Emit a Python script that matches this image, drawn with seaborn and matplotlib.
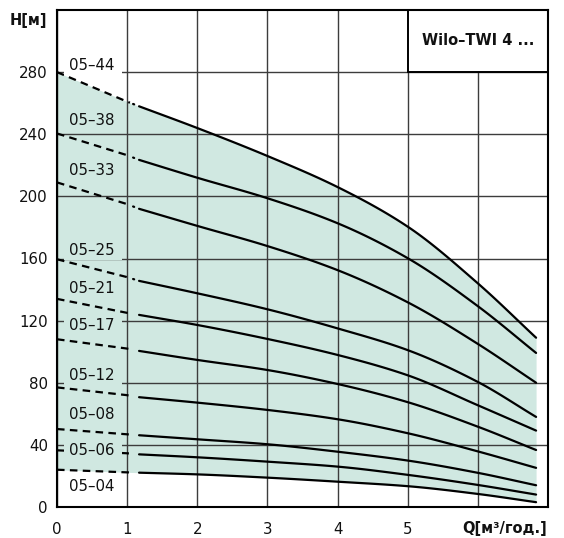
import numpy as np
import pandas as pd
import matplotlib
matplotlib.use("Agg")
import matplotlib.pyplot as plt
import seaborn as sns
from matplotlib.patches import Rectangle

# ---------------- data ----------------
q = [0, 1, 1.17, 2, 3, 4, 5, 6, 6.83]
h_05_44 = [280, 261, 258, 244, 226, 206, 180.5, 144, 109]
h_05_38 = [240.5, 226.5, 223.5, 212, 198.8, 182.7, 160.2, 129.3, 99.2]
h_05_33 = [209, 195, 192, 181, 168, 152.5, 131.8, 105, 80]
h_05_25 = [159.5, 148, 145.6, 137.6, 127.3, 115, 101, 80.5, 58]
h_05_21 = [134, 125, 123.7, 117.2, 108.2, 97.9, 84.8, 65.5, 49.2]
h_05_17 = [108, 102, 100.5, 94.7, 88.2, 79.2, 67.5, 51.7, 36.7]
h_05_12 = [77, 72, 70.7, 67.2, 62.5, 56.5, 47.5, 35.8, 25.2]
h_05_08 = [50.2, 46.8, 46.2, 43.6, 40.4, 35.6, 29.9, 22, 14]
h_05_06 = [36.5, 34.6, 33.9, 32, 29.2, 26, 20.7, 14.2, 8]
h_05_04 = [24, 22.3, 22.1, 21, 18.9, 16.3, 13.4, 8.4, 3.1]

models = ["05–44", "05–38", "05–33", "05–25", "05–21",
          "05–17", "05–12", "05–08", "05–06", "05–04"]
heads = [h_05_44, h_05_38, h_05_33, h_05_25, h_05_21,
         h_05_17, h_05_12, h_05_08, h_05_06, h_05_04]
label_h = [284.4, 248.6, 216.5, 165.4, 141, 116.6, 84.4, 59.5, 36.5, 13.1]
with_dot = [True, True, True, True, False, False, False, False, False, False]

x_ticks = [0, 1, 2, 3, 4, 5, 6]
x_tick_labels = ["0", "1", "2", "3", "4", "5", ""]
y_ticks = [0, 40, 80, 120, 160, 200, 240, 280]
title = "Wilo–TWI 4 ..."
x_label = "Q[м³/год.]"
y_label = "H[м]"

FILL = "#d0e8e1"

# ---------------- helpers ----------------
def pchip(x, y, n_per=20):
    """Monotone cubic (Fritsch-Carlson) curve through the read points, for drawing."""
    x = np.asarray(x, float)
    y = np.asarray(y, float)
    h = np.diff(x)
    d = np.diff(y) / h
    m = np.zeros_like(y)
    m[0], m[-1] = d[0], d[-1]
    for k in range(1, len(x) - 1):
        if d[k - 1] * d[k] <= 0:
            m[k] = 0
        else:
            w1 = 2 * h[k] + h[k - 1]
            w2 = h[k] + 2 * h[k - 1]
            m[k] = (w1 + w2) / (w1 / d[k - 1] + w2 / d[k])
    xs, ys = [], []
    for k in range(len(x) - 1):
        t = np.linspace(0, 1, n_per, endpoint=False)
        h00 = 2 * t ** 3 - 3 * t ** 2 + 1
        h10 = t ** 3 - 2 * t ** 2 + t
        h01 = -2 * t ** 3 + 3 * t ** 2
        h11 = t ** 3 - t ** 2
        xs.append(x[k] + t * h[k])
        ys.append(h00 * y[k] + h10 * h[k] * m[k] + h01 * y[k + 1] + h11 * h[k] * m[k + 1])
    xs.append(x[-1:])
    ys.append(y[-1:])
    return np.concatenate(xs), np.concatenate(ys)

# ---------------- build frames ----------------
solid_rows, dash_rows, dot_rows = [], [], []
for name, h, dot in zip(models, heads, with_dot):
    xs, ys = pchip(q[2:], h[2:])
    solid_rows.append(pd.DataFrame({"Q": xs, "H": ys, "model": name}))
    xd = np.linspace(0, 1.04, 20)
    dash_rows.append(pd.DataFrame({"Q": xd, "H": np.interp(xd, q, h), "model": name}))
    if dot:
        xo = np.array([1.085, 1.10])
        dot_rows.append(pd.DataFrame({"Q": xo, "H": np.interp(xo, q, h), "model": name}))
solid = pd.concat(solid_rows, ignore_index=True)
dashed = pd.concat(dash_rows, ignore_index=True)
dots = pd.concat(dot_rows, ignore_index=True)

# ---------------- figure ----------------
sns.set_theme(style="white")
plt.rcParams["font.family"] = ["DejaVu Sans"]

W, H = 564, 538
fig = plt.figure(figsize=(W / 100, H / 100), dpi=100)
ax = fig.add_axes([57 / W, 31 / H, 491 / W, 497 / H])

# envelope fill
xt_s, yt_s = pchip(q[2:], h_05_44[2:])
xb_s, yb_s = pchip(q[2:], h_05_04[2:])
xl = np.linspace(0, q[2], 10, endpoint=False)
xf = np.concatenate([xl, xt_s])
ytop = np.concatenate([np.interp(xl, q, h_05_44), yt_s])
ybot = np.concatenate([np.interp(xl, q, h_05_04), yb_s])
ax.fill_between(xf, ybot, ytop, color=FILL, linewidth=0, zorder=1)

palette = {m: "black" for m in models}
sns.lineplot(data=solid, x="Q", y="H", hue="model", palette=palette, units="model",
             estimator=None, sort=False, legend=False, lw=1.6, ax=ax, zorder=3)
sns.lineplot(data=dashed, x="Q", y="H", hue="model", palette=palette, units="model",
             estimator=None, sort=False, legend=False, lw=1.6, ax=ax, zorder=3,
             linestyle=(0, (3.4, 2.4)))
sns.lineplot(data=dots, x="Q", y="H", hue="model", palette=palette, units="model",
             estimator=None, sort=False, legend=False, lw=1.6, ax=ax, zorder=3)

# labels with background patches covering grid lines
for name, lh, h in zip(models, label_h, heads):
    inside = (np.interp(0.5, q, h_05_04) < lh < np.interp(0.5, q, h_05_44))
    fc = FILL if inside else "white"
    ax.add_patch(Rectangle((0.1, lh - 6.5), 0.82, 13, facecolor=fc, edgecolor="none", zorder=4))
    ax.text(0.175, lh, name, ha="left", va="center", fontsize=10.8, color="#111111", zorder=5)

# axes
ax.set_xlim(0, 7)
ax.set_ylim(0, 320)
ax.set_xticks(x_ticks)
ax.set_xticklabels(x_tick_labels)
ax.set_yticks(y_ticks)
ax.set_xlabel("")
ax.set_ylabel("")
ax.tick_params(axis="both", length=0, labelsize=10.8, colors="#111111")
ax.tick_params(axis="x", pad=10.5)
ax.tick_params(axis="y", pad=6.5)
ax.grid(True, color="#3c3c3c", lw=1.0)
ax.set_axisbelow(False)
for s in ax.spines.values():
    s.set_color("black")
    s.set_linewidth(1.5)
    s.set_zorder(7)

# title box
ax.add_patch(Rectangle((5, 280), 2, 40, facecolor="white", edgecolor="black", lw=1.4,
                       zorder=6, clip_on=False))
ax.text(6.0, 300.5, title, ha="center", va="center", fontsize=10.5, fontweight="bold",
        color="#111111", zorder=7)

fig.text(47 / W, 1 - 20.5 / H, y_label, ha="right", va="center", fontsize=10.5,
         fontweight="bold", color="#111111")
fig.text(547 / W, 1 - 528 / H, x_label, ha="right", va="center", fontsize=10.5,
         fontweight="bold", color="#111111")

fig.savefig("out.png", dpi=100)
